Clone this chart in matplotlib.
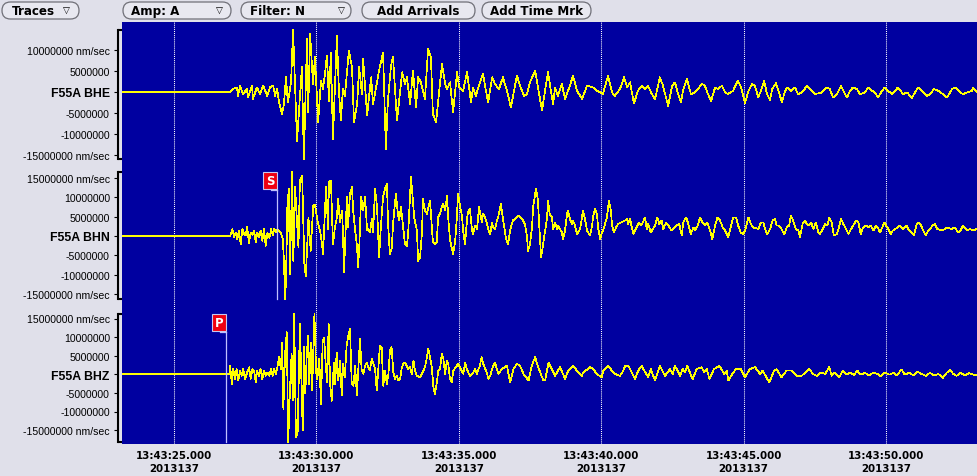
import matplotlib
matplotlib.use('Agg')
import matplotlib.pyplot as plt
import numpy as np
from matplotlib.patches import FancyBboxPatch, Rectangle
from matplotlib.transforms import IdentityTransform

# ---------------- data ----------------
# time: seconds after 13:43:00 (day 2013137); velocity: 1e6 nm/sec
date_label = '2013137'
time_ticks = [25, 30, 35, 40, 45, 50]
t_view = (23.174, 53.195)

stations = ['F55A BHE', 'F55A BHN', 'F55A BHZ']

bhe = [(23.17,0.0),(26.97,0.0),
 (27.07,0.7),(27.21,1.1),(27.25,-0.9),(27.32,1.5),(27.42,-0.5),(27.56,0.7),(27.60,-1.3),(27.74,1.5),(27.77,-1.7),(27.91,1.1),
 (28.02,-0.5),(28.13,1.5),(28.27,-0.9),(28.37,1.1),(28.48,1.5),(28.55,-0.9),(28.62,0.7),(28.69,-2.5),(28.79,-5.2),(28.86,-2.9),
 (28.93,3.5),(29.00,-2.5),(29.11,2.3),(29.18,14.8),(29.32,-11.6),(29.49,5.9),(29.56,-16.0),(29.67,12.6),(29.71,-4.8),(29.78,13.8),
 (29.88,1.9),(29.95,8.3),(30.06,-7.2),(30.16,2.7),(30.23,0.7),(30.30,4.3),(30.37,8.7),(30.44,-2.1),(30.51,9.4),(30.58,-11.2),
 (30.72,13.4),(30.79,0.3),(30.86,-6.8),(30.93,0.7),(31.00,-0.9),(31.14,9.8),(31.25,5.9),(31.32,-7.2),(31.43,-2.9),(31.50,5.9),
 (31.60,-0.5),(31.64,7.9),(31.78,-5.6),(31.92,3.5),(31.99,-2.9),(32.20,5.1),(32.34,9.4),(32.44,-13.6),(32.51,-2.1),(32.62,6.3),
 (32.69,8.3),(32.83,-6.8),(32.94,0.3),(33.01,4.7),(33.11,1.9),(33.18,3.5),(33.29,-2.9),(33.39,5.1),(33.50,-3.7),(33.57,3.5),
 (33.67,2.3),(33.81,-1.7),(33.92,10.2),(34.02,8.3),(34.09,-5.2),(34.20,-7.2),(34.27,-2.5),(34.41,6.7),(34.52,1.9),(34.59,0.7),
 (34.69,2.3),(34.80,-4.8),(34.94,4.7),(35.01,1.1),(35.15,0.3),(35.29,4.7),(35.43,-2.5),(35.50,1.1),(35.60,-0.9),(35.74,2.3),
 (35.85,4.3),(35.92,1.5),(36.03,-2.5),(36.17,3.5),(36.27,1.9),(36.41,0.7),(36.55,3.5),(36.69,0.3),(36.83,-3.7),(36.94,0.3),
 (37.04,3.9),(37.15,1.5),(37.29,-0.9),(37.39,-0.5),(37.50,2.3),(37.68,5.1),(37.78,1.1),(37.92,-4.4),(38.03,0.3),(38.13,4.7),
 (38.31,-2.9),(38.38,1.1),(38.48,-0.9),(38.62,1.9),(38.73,-1.7),(38.90,1.5),(39.01,3.9),(39.15,0.3),(39.33,-1.7),(39.50,1.5),
 (39.71,1.1),(39.85,0.3),(39.96,-0.1),(40.06,-0.5),(40.24,3.9),(40.38,-0.1),(40.48,-0.9),(40.66,0.7),(40.80,3.5),(40.91,1.1),
 (41.01,2.3),(41.15,-2.7),(41.29,0.3),(41.43,1.5),(41.54,0.7),(41.64,1.5),(41.78,-0.5),(41.89,-1.7),(42.06,3.5),(42.17,1.5),
 (42.35,-3.3),(42.49,1.5),(42.59,2.3),(42.70,-0.5),(42.80,-2.5),(42.87,0.3),(43.01,3.1),(43.15,-0.5),(43.29,-0.1),(43.54,1.9),
 (43.64,1.5),(43.75,-0.5),(43.86,-2.1),(44.00,1.1),(44.10,0.7),(44.24,1.5),(44.35,-0.1),(44.45,-0.5),(44.63,0.3),(44.80,2.7),
 (44.91,1.1),(45.05,-2.7),(45.15,-0.1),(45.29,1.9),(45.40,1.5),(45.51,-1.3),(45.61,0.3),(45.72,2.7),(45.82,-0.5),(45.93,-1.9),
 (46.00,0.7),(46.14,2.1),(46.24,-0.1),(46.35,-2.5),(46.42,-0.5),(46.52,1.1),(46.66,0.3),(46.80,1.1),(46.91,-0.5),(47.05,-0.1),
 (47.23,1.5),(47.33,0.7),(47.51,-0.5),(47.75,-0.1),(47.93,1.1),(48.03,0.7),(48.14,-1.3),(48.28,-0.5),(48.42,1.5),(48.53,-0.1),
 (48.63,-1.3),(48.74,0.3),(48.84,1.1),(48.98,0.7),(49.09,-0.5),(49.26,-0.1),(49.37,1.1),(49.51,0.3),(49.61,-0.1),(49.72,-1.3),
 (49.86,0.3),(49.96,1.1),(50.07,0.3),(50.21,-0.5),(50.32,0.3),(50.42,1.1),(50.60,-0.5),(50.74,-0.1),(50.91,-1.4),(51.02,-0.1),
 (51.12,1.1),(51.26,0.3),(51.44,-0.9),(51.54,-0.5),(51.69,0.7),(51.83,0.3),(52.00,-0.5),(52.14,-1.3),(52.32,0.7),(52.42,1.1),
 (52.60,-0.1),(52.70,-0.5),(52.84,-0.1),(53.02,0.3),(53.05,1.1),(53.19,-0.1)]

bhn = [(23.17,0.0),(26.97,0.0),
 (27.05,1.8),(27.11,-0.3),(27.17,0.9),(27.22,-0.8),(27.28,1.4),(27.34,-2.1),(27.40,1.8),(27.46,0.5),(27.52,0.1),(27.57,2.4),
 (27.63,-1.9),(27.69,0.9),(27.75,0.3),(27.81,1.4),(27.87,-1.6),(27.92,0.9),(27.98,-0.2),(28.04,1.4),(28.10,-1.2),(28.16,1.8),
 (28.22,-2.5),(28.28,0.9),(28.35,-0.5),(28.41,1.8),(28.47,0.1),(28.52,1.8),(28.58,0.9),(28.63,1.8),(28.69,1.4),(28.76,0.7),
 (28.82,-0.8),(28.86,-6.4),(28.90,-16.3),(28.93,-12.0),(28.98,7.4),(29.03,12.2),(29.07,-9.8),(29.15,16.5),(29.19,-6.4),(29.25,12.6),
 (29.37,-2.9),(29.42,14.3),(29.50,15.6),(29.58,-8.1),(29.63,-10.3),(29.72,4.8),(29.80,-3.8),(29.89,7.9),(29.95,8.0),(30.06,3.1),
 (30.13,1.4),(30.20,-2.1),(30.23,-4.7),(30.34,12.6),(30.41,1.8),(30.44,13.9),(30.51,14.3),(30.58,-2.1),(30.65,2.2),(30.72,4.8),
 (30.76,9.6),(30.83,3.5),(30.90,6.6),(30.93,1.4),(30.97,-9.4),(31.07,10.0),(31.11,2.2),(31.18,10.9),(31.25,12.6),(31.29,6.6),
 (31.36,1.4),(31.43,-2.9),(31.46,-8.1),(31.50,-3.8),(31.57,10.0),(31.64,6.6),(31.71,10.0),(31.78,1.4),(31.81,1.8),(31.88,0.9),
 (31.95,4.4),(31.99,0.9),(32.06,12.2),(32.13,7.4),(32.20,-5.5),(32.27,3.1),(32.34,10.0),(32.41,12.2),(32.48,13.4),(32.51,4.0),
 (32.58,-4.7),(32.65,-2.9),(32.69,3.1),(32.79,10.9),(32.86,5.7),(32.90,4.0),(32.97,7.4),(33.04,2.7),(33.11,-2.1),(33.18,-2.5),
 (33.22,0.5),(33.32,15.2),(33.39,9.1),(33.43,4.8),(33.53,1.4),(33.57,-6.4),(33.64,-5.5),(33.71,1.4),(33.74,9.6),(33.81,6.6),
 (33.88,5.7),(33.95,7.8),(33.99,9.1),(34.06,1.4),(34.09,-1.6),(34.16,-2.1),(34.23,-1.6),(34.27,4.8),(34.34,5.7),(34.41,7.8),
 (34.45,8.3),(34.52,6.6),(34.59,10.4),(34.62,5.3),(34.69,-0.8),(34.76,-3.4),(34.80,-4.7),(34.87,-1.6),(34.94,5.7),(34.97,10.9),
 (35.04,7.8),(35.11,5.3),(35.15,1.4),(35.22,-2.1),(35.29,4.4),(35.32,6.1),(35.39,7.0),(35.46,1.8),(35.50,0.5),(35.57,2.7),
 (35.64,1.8),(35.71,7.4),(35.81,3.5),(35.85,5.7),(35.92,4.8),(35.99,3.1),(36.03,1.8),(36.10,0.5),(36.17,3.5),(36.20,2.2),
 (36.27,1.8),(36.34,4.0),(36.38,4.8),(36.48,8.3),(36.55,4.4),(36.66,-0.8),(36.73,-2.1),(36.80,1.4),(36.90,4.0),(37.04,4.8),
 (37.08,5.3),(37.22,4.4),(37.32,3.1),(37.39,0.1),(37.43,-3.8),(37.50,-2.1),(37.57,2.2),(37.61,7.4),(37.71,12.2),(37.78,9.1),
 (37.82,3.1),(37.89,-5.5),(37.96,-2.1),(38.03,1.4),(38.10,4.8),(38.13,9.1),(38.20,5.3),(38.27,4.8),(38.31,1.8),(38.38,3.5),
 (38.45,1.8),(38.48,2.7),(38.62,0.9),(38.66,-0.8),(38.73,1.4),(38.80,5.7),(38.83,6.6),(38.90,4.4),(38.97,3.1),(39.01,4.0),
 (39.08,2.7),(39.15,0.5),(39.26,1.8),(39.36,6.6),(39.43,4.4),(39.50,1.4),(39.61,0.1),(39.68,2.7),(39.71,4.8),(39.78,7.0),
 (39.85,5.7),(39.89,2.2),(39.96,-0.8),(40.03,0.9),(40.10,2.2),(40.20,4.8),(40.27,9.1),(40.34,6.6),(40.38,2.7),(40.45,0.9),
 (40.52,2.2),(40.59,3.1),(40.70,3.5),(40.84,4.0),(40.91,4.4),(40.94,3.1),(41.01,4.4),(41.13,0.5),(41.33,3.5),(41.41,2.7),
 (41.54,4.8),(41.60,1.8),(41.65,3.1),(41.74,0.9),(41.89,2.7),(41.97,4.8),(42.04,3.1),(42.12,4.0),(42.18,1.8),(42.28,3.5),
 (42.36,2.7),(42.47,1.4),(42.65,2.7),(42.74,3.1),(42.83,0.1),(42.88,3.5),(42.98,4.8),(43.06,3.1),(43.14,0.5),(43.24,2.2),
 (43.29,1.4),(43.39,2.7),(43.47,4.8),(43.56,3.5),(43.64,2.7),(43.73,3.5),(43.82,1.4),(43.90,-0.8),(44.00,2.7),(44.08,4.8),
 (44.17,4.0),(44.27,2.2),(44.35,1.4),(44.46,-0.3),(44.56,2.7),(44.64,4.8),(44.73,4.8),(44.81,2.7),(44.90,0.9),(44.99,0.5),
 (45.05,1.4),(45.17,4.8),(45.25,3.1),(45.34,2.2),(45.52,1.8),(45.61,3.5),(45.69,3.5),(45.75,1.8),(45.83,0.5),(45.93,1.8),
 (46.02,4.0),(46.10,4.4),(46.16,2.7),(46.24,2.7),(46.33,1.8),(46.43,0.5),(46.51,2.2),(46.60,2.7),(46.66,5.3),(46.74,4.0),
 (46.83,1.8),(46.92,1.4),(46.98,-0.3),(47.07,3.1),(47.16,4.0),(47.22,3.1),(47.27,2.7),(47.37,3.5),(47.45,1.8),(47.54,3.5),
 (47.62,0.9),(47.68,0.5),(47.78,1.8),(47.86,3.1),(47.94,2.7),(48.01,4.8),(48.09,3.5),(48.17,0.1),(48.27,0.5),(48.35,2.2),
 (48.42,4.4),(48.50,3.1),(48.60,1.8),(48.68,0.5),(48.77,1.8),(48.85,2.7),(48.95,4.0),(49.03,3.5),(49.11,0.5),(49.20,2.2),
 (49.30,2.7),(49.38,2.2),(49.46,2.7),(49.56,1.4),(49.64,2.7),(49.71,2.2),(49.79,0.9),(49.87,2.2),(49.94,3.5),(50.00,2.7),
 (50.08,1.8),(50.16,0.5),(50.24,1.4),(50.32,1.8),(50.41,2.2),(50.49,2.7),(50.58,1.8),(50.72,2.7),(50.81,1.4),(50.90,0.9),
 (50.98,0.1),(51.08,3.1),(51.16,3.5),(51.23,2.7),(51.31,1.4),(51.40,0.1),(51.48,1.4),(51.54,1.8),(51.64,2.7),(51.72,3.1),
 (51.80,1.8),(51.97,1.4),(52.07,1.8),(52.15,2.2),(52.30,1.8),(52.38,2.2),(52.45,1.8),(52.53,0.9),(52.62,1.4),(52.69,2.7),
 (52.77,2.2),(52.85,1.4),(52.95,1.8),(53.06,1.4),(53.18,1.8)]

bhz = [(23.17,0.0),(26.94,0.0),
 (26.97,2.3),(27.03,-2.6),(27.08,1.4),(27.14,-1.3),(27.20,1.4),(27.26,-1.7),(27.32,1.0),(27.38,-0.4),(27.43,1.4),(27.49,-1.3),
 (27.57,0.5),(27.64,1.9),(27.69,-1.3),(27.75,1.4),(27.81,1.0),(27.87,-2.2),(27.92,1.0),(27.98,-0.4),(28.04,1.4),(28.10,-1.3),
 (28.16,1.0),(28.22,-0.4),(28.28,0.5),(28.35,-0.4),(28.40,1.4),(28.47,-0.4),(28.52,1.4),(28.58,0.1),(28.64,2.3),(28.69,4.6),
 (28.75,1.4),(28.80,8.6),(28.84,-9.3),(28.90,5.5),(28.96,11.3),(29.01,-18.3),(29.07,-4.4),(29.13,5.5),(29.17,-7.0),(29.22,16.2),
 (29.28,-16.9),(29.34,-16.0),(29.42,13.5),(29.52,-15.1),(29.56,7.3),(29.61,-5.2),(29.66,5.0),(29.71,10.4),(29.75,-2.6),(29.80,8.6),
 (29.85,-4.4),(29.89,5.5),(29.93,16.2),(29.99,0.5),(30.03,-1.3),(30.10,4.1),(30.16,-8.0),(30.22,8.6),(30.27,9.9),(30.33,2.3),
 (30.38,-2.2),(30.43,13.5),(30.48,-2.6),(30.54,-7.1),(30.59,0.1),(30.63,3.2),(30.66,-2.6),(30.71,5.9),(30.77,-1.7),(30.83,3.7),
 (30.89,-5.7),(30.94,2.8),(31.00,-0.8),(31.06,7.7),(31.12,10.4),(31.18,12.2),(31.24,-2.6),(31.30,-3.1),(31.36,2.3),(31.42,-5.7),
 (31.47,1.0),(31.53,9.5),(31.59,1.0),(31.65,0.1),(31.71,2.3),(31.77,3.2),(31.82,1.9),(31.88,1.0),(31.94,4.1),(32.00,2.8),
 (32.06,1.4),(32.12,-4.4),(32.17,1.0),(32.23,7.7),(32.29,7.3),(32.35,-3.1),(32.41,1.0),(32.47,-2.6),(32.53,0.1),(32.58,6.4),
 (32.64,7.3),(32.70,0.5),(32.76,-1.3),(32.82,-0.4),(32.88,-1.7),(32.94,-1.3),(32.99,1.4),(33.05,2.8),(33.11,3.2),(33.17,2.3),
 (33.23,1.4),(33.29,1.9),(33.35,0.1),(33.41,3.7),(33.46,1.0),(33.52,-0.4),(33.64,-0.8),(33.76,1.0),(33.81,1.9),(33.87,4.1),
 (33.93,6.8),(33.99,4.6),(34.05,1.9),(34.11,-3.5),(34.16,-5.3),(34.22,-2.6),(34.28,1.0),(34.34,1.4),(34.40,5.5),(34.46,4.1),
 (34.52,0.1),(34.58,3.7),(34.63,2.8),(34.69,-1.3),(34.75,-2.2),(34.81,1.0),(34.93,2.3),(34.98,2.8),(35.10,1.0),(35.16,0.1),
 (35.22,3.2),(35.28,1.4),(35.39,-0.4),(35.51,0.5),(35.57,1.4),(35.63,0.1),(35.74,2.3),(35.80,4.6),(35.86,2.8),(35.98,0.5),
 (36.04,-1.3),(36.10,-0.4),(36.21,2.3),(36.27,3.2),(36.39,0.1),(36.51,1.4),(36.69,2.3),(36.80,-2.2),(36.92,1.4),(37.04,2.8),
 (37.15,2.3),(37.27,0.1),(37.45,-1.7),(37.56,2.3),(37.68,4.6),(37.79,1.9),(37.97,-1.7),(38.03,-1.7),(38.15,3.2),(38.27,1.4),
 (38.38,-0.4),(38.55,1.9),(38.61,1.0),(38.73,-1.3),(38.84,1.0),(39.02,2.3),(39.14,1.0),(39.32,-0.4),(39.37,0.5),(39.61,1.9),
 (39.72,1.4),(39.84,0.1),(40.02,-0.8),(40.07,1.0),(40.25,2.3),(40.37,1.0),(40.48,0.1),(40.66,-0.4),(40.78,1.0),(40.84,2.3),
 (40.95,2.3),(41.01,1.4),(41.19,-1.3),(41.30,1.0),(41.42,2.3),(41.48,1.4),(41.65,-0.8),(41.74,1.4),(41.89,-1.7),(42.06,2.3),
 (42.24,-0.4),(42.42,1.4),(42.51,0.1),(42.59,2.3),(42.77,-0.4),(42.86,1.4),(42.94,0.5),(43.02,2.3),(43.21,-1.3),(43.35,1.4),
 (43.53,1.9),(43.61,0.5),(43.71,1.4),(43.80,-1.3),(43.96,1.4),(44.15,2.3),(44.32,0.1),(44.41,1.0),(44.46,-1.7),(44.64,0.5),
 (44.73,1.4),(44.90,1.4),(45.05,-0.8),(45.22,1.4),(45.40,1.9),(45.58,0.1),(45.67,1.0),(45.90,-2.2),(46.07,1.0),(46.16,1.4),
 (46.33,-0.8),(46.51,1.0),(46.69,1.0),(46.86,-0.4),(47.04,-0.4),(47.16,0.5),(47.31,1.4),(47.43,0.1),(47.57,-0.4),(47.71,0.5),
 (47.86,0.1),(48.01,2.0),(48.09,-0.4),(48.21,0.5),(48.36,-0.8),(48.48,1.0),(48.62,-0.1),(48.74,0.5),(48.88,-0.2),(48.99,1.0),
 (49.11,-0.1),(49.26,0.4),(49.41,-0.3),(49.56,0.5),(49.70,0.1),(49.81,-0.6),(49.96,0.5),(50.12,-0.1),(50.26,0.4),(50.37,-0.3),
 (50.55,1.3),(50.66,-0.1),(50.82,0.4),(50.96,-0.3),(51.10,0.7),(51.25,0.1),(51.40,-0.4),(51.54,0.4),(51.68,-0.3),(51.84,0.1),
 (51.99,-1.0),(52.13,0.4),(52.25,1.2),(52.36,0.1),(52.48,-0.4),(52.62,0.4),(52.77,-0.3),(52.92,0.3),(53.06,-0.1),(53.18,-0.3)]

traces = [bhe, bhn, bhz]
picks = [None, ('S', 28.62), ('P', 26.83)]

buttons = ['Traces', 'Amp: A', 'Filter: N', 'Add Arrivals', 'Add Time Mrk']
button_menu = [True, True, True, False, False]

# ---------------- style / layout (pixels) ----------------
W, H = 977, 477
BG = '#e0e0ea'
BLUE = '#0000a0'
YEL = '#ffff00'
PLOT_L, PLOT_R, PLOT_T, PLOT_B = 122, 977, 23, 445
# (top px, bottom px, zero px, px per 1e6)
panel_geom = [(23, 165, 93.0, 4.2), (165, 305, 237.0, 3.88), (305, 445, 375.3, 3.72)]
PX_PER_S = (PLOT_R - PLOT_L) / (t_view[1] - t_view[0])

fig = plt.figure(figsize=(W / 100, H / 100), dpi=100, facecolor=BG)


def rect(l, t, r, b):
    return [l / W, 1 - b / H, (r - l) / W, (b - t) / H]


# background axes with time axis
bg = fig.add_axes(rect(PLOT_L, PLOT_T, PLOT_R, PLOT_B))
bg.set_facecolor(BLUE)
bg.set_xlim(*t_view)
bg.set_ylim(0, 1)
for s in bg.spines.values():
    s.set_visible(False)
bg.set_yticks([])
bg.set_xticks(time_ticks)
bg.set_xticklabels([f'13:43:{t:02d}.000\n{date_label}' for t in time_ticks],
                   fontfamily='DejaVu Sans', fontweight='bold', fontsize=7.4,
                   linespacing=1.38)
bg.tick_params(axis='x', length=0, pad=4.3)
for t in time_ticks:
    bg.axvline(t, color='white', lw=0.75, ls=(0, (1, 1)))

for i, (name, tr) in enumerate(zip(stations, traces)):
    top, bot, zero, s = panel_geom[i]
    ax = fig.add_axes(rect(PLOT_L, top, PLOT_R, bot))
    ax.patch.set_visible(False)
    ax.set_xlim(*t_view)
    ax.set_ylim((zero - bot) / s, (zero - top) / s)
    tt = [p[0] for p in tr]
    vv = [p[1] for p in tr]
    ax.plot(tt, vv, color=YEL, lw=0.5, antialiased=False)
    vmin, vmax = min(vv), max(vv)

    for k in ('top', 'right', 'bottom'):
        ax.spines[k].set_visible(False)
    sp = ax.spines['left']
    sp.set_position(('outward', 4 * 0.72))
    sp.set_bounds(vmin, vmax)
    sp.set_linewidth(1.5)
    sp.set_color('black')
    ytr = ax.get_yaxis_transform()
    capx = [-4 / (PLOT_R - PLOT_L), 0.0]
    for v in (vmin, vmax):
        ax.plot(capx, [v, v], color='black', lw=1.5, transform=ytr, clip_on=False,
                solid_capstyle='butt')
    ax.set_xticks([])
    ticks = [v for v in range(-15, 20, 5) if vmin <= v <= vmax]
    labels = []
    for j, v in enumerate(ticks):
        if v == 0:
            labels.append(name)
        else:
            lab = str(int(v * 1000000))
            if j == 0 or j == len(ticks) - 1:
                lab += ' nm/sec'
            labels.append(lab)
    ax.set_yticks(ticks)
    ax.set_yticklabels(labels, fontfamily='Liberation Sans', fontsize=7.6)
    ax.tick_params(axis='y', length=4 * 0.72, width=0.8, pad=3, colors='black')
    for lab, v in zip(ax.get_yticklabels(), ticks):
        if v == 0:
            lab.set_fontweight('bold')
            lab.set_fontsize(8.8)

    if picks[i] is not None:
        ph, tp = picks[i]
        bw = 14 / PX_PER_S
        bh = 16.7 / s
        ax.add_patch(Rectangle((tp - bw, vmax - bh), bw, bh, facecolor='#f00010',
                               edgecolor='#c8c8f0', lw=0.8, clip_on=False, zorder=5))
        ax.text(tp - bw / 2, vmax - bh / 2, ph, color='white', fontweight='bold',
                fontfamily='DejaVu Sans', fontsize=8.5, ha='center', va='center', zorder=6)
        ytop = vmax - bh - 1.6 / s
        ax.plot([tp, tp], [ytop, vmin], color='#c0c0ff', lw=0.9, zorder=4)
        ax.plot([tp - 6 / PX_PER_S, tp], [ytop, ytop], color='#c0c0ff', lw=0.9, zorder=4)

# toolbar buttons (pixel geometry)
btn_x = [(2, 79), (123, 231), (241, 351), (362, 475), (482, 591)]
btn_text_x = [12, 131, 250, 418.5, 536.5]
btn_arrow_x = [66, 219, 341, None, None]
by0, by1 = 3, 20
for j, lab in enumerate(buttons):
    x0, x1 = btn_x[j]
    p = FancyBboxPatch((x0, H - by1), x1 - x0, by1 - by0,
                       boxstyle='round,pad=0,rounding_size=8.5',
                       facecolor='#e8e8f0', edgecolor='#707078', lw=0.9,
                       transform=IdentityTransform())
    fig.add_artist(p)
    yc = H - (by0 + by1) / 2
    if button_menu[j]:
        fig.text(btn_text_x[j] / W, yc / H, lab, ha='left', va='center',
                 fontfamily='DejaVu Sans', fontweight='bold', fontsize=8.6)
        fig.text(btn_arrow_x[j] / W, yc / H, '\u25bd', ha='center', va='center',
                 fontfamily='DejaVu Sans', fontsize=6.5)
    else:
        fig.text(btn_text_x[j] / W, yc / H, lab, ha='center', va='center',
                 fontfamily='DejaVu Sans', fontweight='bold', fontsize=8.6)

fig.savefig('out.png', dpi=100, facecolor=BG)
